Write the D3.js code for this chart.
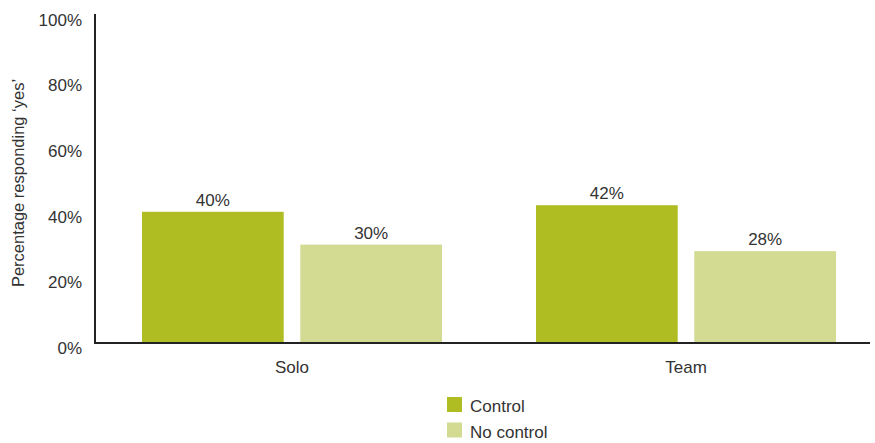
<!DOCTYPE html>
<html><head><meta charset="utf-8">
<script src="https://cdn.jsdelivr.net/npm/d3@7"></script>
<style>body{margin:0;background:#fff}text{font-family:"Liberation Sans",Arial,sans-serif;fill:#333}</style>
</head><body><svg id="c" width="875" height="443"></svg>
<script>
const categories = ["Solo", "Team"];
const seriesNames = ["Control", "No control"];
const control = [40, 42];
const noControl = [30, 28];
const yTicks = [0, 20, 40, 60, 80, 100];
const colors = ["#afbd22", "#d3da91"];

const FONT = '"Liberation Sans",Arial,sans-serif';
const svg = d3.select("#c");
const x0 = d3.scaleBand().domain(categories).range([95, 883]).paddingInner(0).paddingOuter(0);
const x1 = d3.scaleBand().domain(seriesNames).range([47, 347]).paddingInner(0.105).paddingOuter(0);
const y = d3.scaleLinear().domain([0, 100]).range([343, 15]);

const data = categories.map((c, i) => ({cat: c, vals: [control[i], noControl[i]]}));

const g = svg.append("g");
data.forEach(d => {
  d.vals.forEach((v, j) => {
    const xx = x0(d.cat) + x1(seriesNames[j]);
    g.append("rect").attr("x", xx).attr("y", y(v)).attr("width", x1.bandwidth())
      .attr("height", y(0) - y(v)).attr("fill", colors[j]);
    g.append("text").attr("x", xx + x1.bandwidth() / 2).attr("y", y(v) - 6)
      .attr("text-anchor", "middle").attr("font-size", 17).text(v + "%");
  });
});

// y axis
const ya = svg.append("g").attr("transform", "translate(95,0)")
  .call(d3.axisLeft(y).tickValues(yTicks).tickSize(0).tickPadding(13).tickFormat(d => d + "%"));
ya.select(".domain").remove();
ya.selectAll("text").attr("font-size", 17).attr("dy", "0.6em").style("fill", "#333").style("font-family", FONT);
svg.append("line").attr("x1", 95).attr("x2", 95).attr("y1", 14).attr("y2", 344).attr("stroke", "#222").attr("stroke-width", 2);
svg.append("line").attr("x1", 94).attr("x2", 870).attr("y1", 343).attr("y2", 343).attr("stroke", "#222").attr("stroke-width", 2);

// x labels
const xa = svg.append("g").attr("transform", "translate(0,343)")
  .call(d3.axisBottom(x0).tickSize(0).tickPadding(18));
xa.select(".domain").remove();
xa.selectAll("text").attr("font-size", 17).style("fill", "#333").style("font-family", FONT);

// y title
svg.append("text").attr("transform", "translate(24,183) rotate(-90)").attr("text-anchor", "middle")
  .attr("font-size", 16.5).text("Percentage responding \u2018yes\u2019");

// legend
seriesNames.forEach((s, i) => {
  const ly = 397 + i * 25.5;
  svg.append("rect").attr("x", 447).attr("y", ly).attr("width", 15).attr("height", 15).attr("fill", colors[i]);
  svg.append("text").attr("x", 470).attr("y", ly + 15).attr("font-size", 17).text(s);
});
</script></body></html>
